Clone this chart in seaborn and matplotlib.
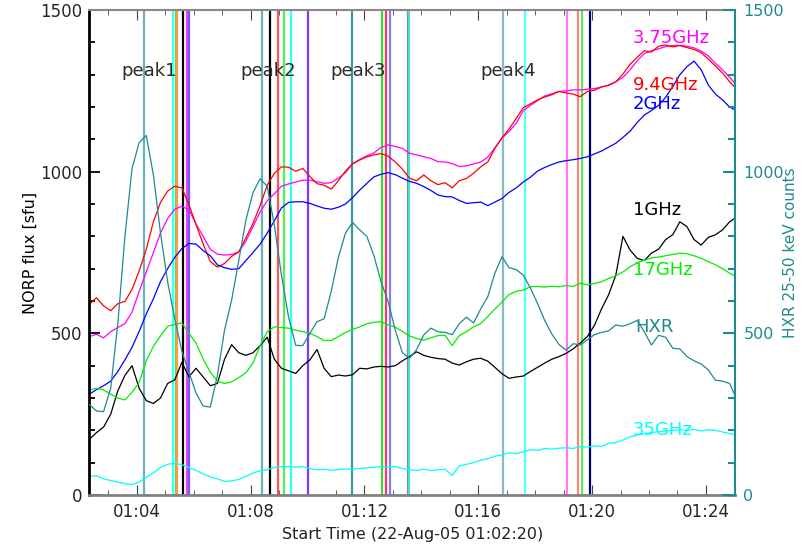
import numpy as np
import pandas as pd
import seaborn as sns
import matplotlib.pyplot as plt
from matplotlib.ticker import MultipleLocator, FuncFormatter

# sample times, minutes after 01:00, 15 s cadence from 01:02:20
minutes = 2 + 1 / 3 + 0.25 * np.arange(92)

flux_9p4 = [590, 610, 585, 570, 592, 599, 636, 693, 760, 845, 905, 940, 955, 950, 898, 836, 776, 722, 705, 716,
            738, 752, 795, 840, 895, 958, 995, 1015,
            1014, 1001, 1010, 985, 963, 958, 946, 972, 1002, 1025, 1036, 1046, 1052, 1056, 1048, 1030, 1008, 980,
            972, 990, 972, 960, 966, 950, 972, 979, 995, 1015, 1030, 1072, 1105, 1132,
            1165, 1198, 1210, 1222, 1231, 1238, 1248, 1244, 1240, 1232, 1248, 1252, 1262, 1267, 1278, 1302, 1332,
            1354, 1374, 1370, 1388, 1392, 1386, 1390, 1384, 1378, 1368, 1348, 1327, 1305, 1278, 1255]
flux_3p75 = [490, 497, 486, 505, 518, 530, 566, 630, 690, 750, 810, 855, 884, 893, 882, 838, 800, 760, 745, 742,
             744, 752, 785, 830, 875, 910, 932, 955,
             962, 968, 974, 974, 969, 964, 966, 980, 997, 1024, 1038, 1049, 1058, 1075, 1083, 1078, 1072, 1057,
             1052, 1046, 1041, 1031, 1030, 1025, 1016, 1018, 1024, 1030, 1045, 1074, 1104, 1124,
             1150, 1189, 1205, 1220, 1234, 1241, 1248, 1250, 1253, 1253, 1255, 1257, 1262, 1268, 1278, 1292, 1315,
             1343, 1365, 1374, 1380, 1387, 1390, 1391, 1388, 1383, 1373, 1358, 1335, 1315, 1292, 1268]
flux_2 = [312, 326, 338, 352, 382, 418, 457, 506, 560, 607, 660, 700, 735, 762, 778, 776, 756, 740, 712, 703,
          698, 700, 725, 750, 776, 810, 848, 888,
          905, 907, 907, 902, 894, 887, 884, 890, 900, 920, 943, 964, 984, 992, 997, 991, 980, 970, 964, 954,
          942, 928, 923, 922, 911, 902, 904, 906, 895, 906, 917, 936,
          950, 968, 983, 1002, 1013, 1022, 1030, 1034, 1037, 1041, 1046, 1055, 1064, 1076, 1088, 1106, 1125,
          1152, 1175, 1189, 1205, 1230, 1263, 1300, 1325, 1342, 1315, 1268, 1240, 1222, 1200, 1188]
flux_1 = [172, 193, 210, 250, 322, 370, 400, 330, 292, 283, 300, 345, 356, 410, 366, 392, 365, 338, 345, 420,
          465, 440, 432, 440, 462, 488, 420, 392,
          384, 376, 400, 418, 450, 392, 366, 371, 368, 372, 392, 390, 396, 398, 396, 400, 415, 428, 443, 432,
          426, 422, 420, 408, 402, 412, 420, 423, 414, 395, 375, 361,
          365, 368, 382, 395, 408, 420, 428, 438, 452, 470, 490, 525, 576, 620, 680, 800, 758, 732, 725, 748,
          760, 790, 805, 845, 830, 790, 773, 797, 805, 820, 845, 860]
flux_17 = [325, 330, 325, 312, 300, 294, 318, 348, 415, 460, 492, 522, 528, 532, 500, 470, 420, 380, 352, 345,
           350, 363, 378, 408, 462, 505, 520, 518,
           516, 510, 505, 500, 490, 478, 478, 490, 503, 512, 520, 530, 534, 536, 526, 519, 506, 492, 484, 479,
           486, 493, 494, 462, 493, 505, 520, 530, 552, 575, 597, 620,
           630, 634, 644, 645, 643, 646, 644, 648, 645, 655, 650, 654, 660, 670, 678, 690, 706, 718, 726, 733,
           736, 740, 744, 748, 746, 740, 732, 722, 712, 700, 686, 675]
flux_35 = [57, 60, 50, 45, 40, 35, 32, 40, 55, 68, 85, 95, 98, 94, 85, 76, 65, 56, 50, 42, 44, 48, 58, 68, 75,
           78, 85, 88,
           88, 86, 88, 82, 78, 80, 76, 79, 80, 80, 82, 84, 86, 88, 86, 88, 82, 78, 76, 80, 76, 78, 80, 60, 90,
           95, 100, 108, 112, 120, 124, 130,
           128, 134, 140, 138, 144, 142, 145, 146, 144, 150, 148, 152, 150, 160, 162, 170, 180, 185, 190, 193,
           196, 198, 200, 202, 200, 203, 198, 202, 200, 195, 190, 186]
hxr_counts = [280, 260, 258, 330, 530, 800, 1010, 1090, 1112, 990, 810, 660, 545, 445, 380, 315, 275, 272, 370,
              510, 603, 725, 850, 935, 978, 955, 835, 680,
              550, 463, 462, 500, 536, 545, 630, 735, 810, 843, 820, 800, 740, 660, 598, 510, 440, 423, 450, 495,
              516, 505, 503, 496, 530, 550, 532, 575, 613, 686, 737, 703,
              697, 680, 640, 592, 540, 498, 466, 448, 468, 464, 480, 496, 503, 508, 526, 522, 530, 540, 505, 464,
              494, 488, 454, 452, 428, 415, 405, 387, 355, 352, 345, 295]

bands = ['3.75GHz', '9.4GHz', '2GHz', '1GHz', '17GHz', '35GHz']
band_flux = [flux_3p75, flux_9p4, flux_2, flux_1, flux_17, flux_35]
band_colors = {'3.75GHz': '#ff00ff', '9.4GHz': '#ff0000', '2GHz': '#0000ff',
               '1GHz': '#000000', '17GHz': '#00ee00', '35GHz': '#00ffff'}
teal = '#1f8a8f'

# marked times (minutes after 01:00) and their colours
mark_minutes = [4.27, 5.26, 5.37, 5.40, 5.62, 5.77, 5.85,
                8.41, 8.68, 8.95, 9.16, 9.42, 10.02,
                11.57, 12.62, 12.74, 12.91, 13.53, 13.58,
                16.88, 17.65, 19.13, 19.50, 19.64, 19.93]
mark_colors = ['#66b3bb', '#44ffff', '#55dd55', '#ff9944', '#000000', '#ee44ee', '#7755ff',
               '#66b3bb', '#000000', '#ff5555', '#55ee55', '#33ffff', '#8833ff',
               '#3a9aa0', '#33dd33', '#ff3366', '#7f7fff', '#888888', '#44dddd',
               '#88bbc4', '#55ffff', '#ff77ff', '#ff8080', '#55ee55', '#000066']

peak_names = ['peak1', 'peak2', 'peak3', 'peak4']
peak_minutes = [4.45, 8.63, 11.79, 17.05]

df = pd.DataFrame({
    'minute': np.tile(minutes, len(bands)),
    'flux': np.concatenate(band_flux),
    'band': np.repeat(bands, len(minutes)),
})
hxr = pd.DataFrame({'minute': minutes, 'counts': hxr_counts})

sns.set_style('white')
plt.rcParams['font.family'] = ['DejaVu Sans']

fig = plt.figure(figsize=(8.05, 5.48), dpi=100)
ax = fig.add_axes([0.111, 0.0967, 0.802, 0.885])

for m, c in zip(mark_minutes, mark_colors):
    ax.axvline(m, color=c, lw=1.6, zorder=1)

sns.lineplot(data=df, x='minute', y='flux', hue='band', palette=band_colors, hue_order=bands,
             linewidth=0.9, legend=False, estimator=None, sort=False, ax=ax, zorder=2)

ax.set_xlim(2 + 1 / 3, 25.02)
ax.set_ylim(0, 1500)
ax.xaxis.set_major_locator(MultipleLocator(4))
ax.xaxis.set_minor_locator(MultipleLocator(1))
ax.xaxis.set_major_formatter(FuncFormatter(lambda v, p: f"01:{int(round(v)):02d}"))
ax.yaxis.set_major_locator(MultipleLocator(500))
ax.yaxis.set_minor_locator(MultipleLocator(100))
ax.tick_params(axis='x', which='both', direction='in', top=True, bottom=True, color='#444444',
               labelsize=12, pad=6)
ax.tick_params(axis='x', which='major', length=7)
ax.tick_params(axis='x', which='minor', length=3.5)
ax.tick_params(axis='y', which='both', direction='in', left=True, right=False, color='black',
               labelsize=12, pad=5, width=1.3)
ax.tick_params(axis='y', which='major', length=8)
ax.tick_params(axis='y', which='minor', length=4.5)
ax.spines['left'].set_color('black')
ax.spines['left'].set_linewidth(2)
ax.spines['bottom'].set_color('#808080')
ax.spines['bottom'].set_linewidth(2)
ax.spines['top'].set_color('#888888')
ax.spines['top'].set_linewidth(1.5)
ax.spines['right'].set_visible(False)
ax.set_xlabel('Start Time (22-Aug-05 01:02:20)', fontsize=11.5, color='#222222')
ax.set_ylabel('NORP flux [sfu]', fontsize=11.5, color='black')
ax.xaxis.set_label_coords(0.5, -0.066)
ax.yaxis.set_label_coords(-0.08, 0.5)

for name, m in zip(peak_names, peak_minutes):
    ax.text(m, 1311, name, fontsize=13, color='#2b2b2b', ha='center', va='center')

label_at = {'3.75GHz': 1412, '9.4GHz': 1268, '2GHz': 1209, '1GHz': 881, '17GHz': 696, '35GHz': 201}
for b in bands:
    ax.text(21.42, label_at[b], b, fontsize=13, color=band_colors[b], ha='left', va='center', zorder=5)
ax.text(21.5, 520, 'HXR', fontsize=13, color=teal, ha='left', va='center', zorder=5)

ax2 = ax.twinx()
sns.lineplot(data=hxr, x='minute', y='counts', color=teal, linewidth=0.9, estimator=None, sort=False, ax=ax2)
ax2.set_ylim(0, 1500)
ax2.set_xlim(ax.get_xlim())
ax2.yaxis.set_major_locator(MultipleLocator(500))
ax2.yaxis.set_minor_locator(MultipleLocator(100))
ax2.tick_params(axis='y', which='both', direction='in', right=True, left=False, color=teal,
                labelcolor=teal, labelsize=11.5, pad=6, width=1.5)
ax2.tick_params(axis='y', which='major', length=9)
ax2.tick_params(axis='y', which='minor', length=5)
for s in ['left', 'top', 'bottom']:
    ax2.spines[s].set_visible(False)
ax2.spines['right'].set_color(teal)
ax2.spines['right'].set_linewidth(1.5)
ax2.set_ylabel('HXR 25-50 keV counts', fontsize=11, color=teal)
ax2.yaxis.set_label_coords(1.074, 0.5)
ax2.set_xlabel('')

fig.savefig('out.png', dpi=100)
